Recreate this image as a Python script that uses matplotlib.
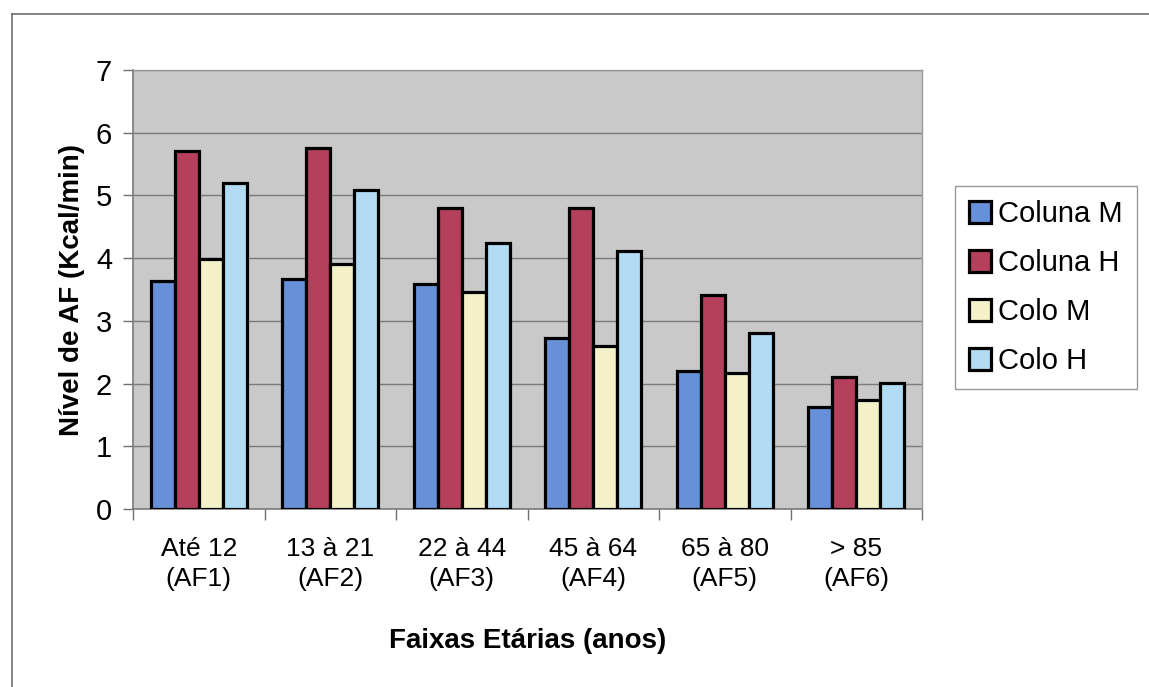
import matplotlib.pyplot as plt
import numpy as np
from matplotlib.lines import Line2D

plt.rcParams["font.family"] = ["Liberation Sans", "DejaVu Sans"]

categories = ["Até 12\n(AF1)", "13 à 21\n(AF2)", "22 à 44\n(AF3)",
              "45 à 64\n(AF4)", "65 à 80\n(AF5)", "> 85\n(AF6)"]
coluna_m = [3.64, 3.67, 3.59, 2.73, 2.20, 1.63]
coluna_h = [5.71, 5.76, 4.80, 4.80, 3.41, 2.11]
colo_m = [3.99, 3.91, 3.46, 2.60, 2.17, 1.74]
colo_h = [5.20, 5.09, 4.24, 4.11, 2.81, 2.01]

series = [
    ("Coluna M", coluna_m, "#6690d8"),
    ("Coluna H", coluna_h, "#b4405c"),
    ("Colo M", colo_m, "#f4f1c8"),
    ("Colo H", colo_h, "#b2dcf4"),
]

fig = plt.figure(figsize=(11.49, 6.87), dpi=100)
ax = fig.add_axes([133 / 1149, 1 - 509 / 687, 789 / 1149, 439 / 687])
ax.set_facecolor("#c9c9c9")

x = np.arange(len(categories))
w = 0.183
for i, (name, vals, col) in enumerate(series):
    ax.bar(x + (i - 1.5) * w, vals, w, color=col, edgecolor="black",
           linewidth=2.3, label=name, zorder=3)

ax.set_xlim(-0.5, len(categories) - 0.5)
ax.set_ylim(0, 7)
ax.set_yticks(range(8))
ax.yaxis.grid(True, color="#7a7a7a", linewidth=1.0, zorder=1)

# category ticks sit between groups, labels at group centres
ax.set_xticks(np.arange(-0.5, len(categories)), minor=False)
ax.set_xticklabels([])
ax.set_xticks(x, minor=True)
ax.set_xticklabels(categories, minor=True, fontsize=19, linespacing=1.35)
ax.tick_params(axis="x", which="minor", length=0, pad=20)
ax.tick_params(axis="x", which="major", length=8, color="#707070", width=1)
ax.tick_params(axis="y", length=7, color="#707070", width=1, labelsize=21, pad=8)

for s in ["top", "right"]:
    ax.spines[s].set_visible(False)
for s in ["left", "bottom"]:
    ax.spines[s].set_color("#7a7a7a")
    ax.spines[s].set_linewidth(1.2)
ax.plot([1, 1], [0, 1], transform=ax.transAxes, color="#9a9a9a", lw=1, zorder=4, clip_on=False)
ax.plot([0, 1], [1, 1], transform=ax.transAxes, color="#9a9a9a", lw=1, zorder=4, clip_on=False)

ax.set_xlabel("Faixas Etárias (anos)", fontsize=20, fontweight="bold", labelpad=26)
ax.set_ylabel("Nível de AF (Kcal/min)", fontsize=20, fontweight="bold", labelpad=8)

leg = ax.legend(loc="upper left", bbox_to_anchor=(955 / 1149, 1 - 186 / 687),
                bbox_transform=fig.transFigure, borderaxespad=0, fontsize=21,
                fancybox=False, frameon=True, handlelength=0.75, handleheight=0.75,
                handletextpad=0.25, labelspacing=0.72, borderpad=0.48)
leg.get_frame().set_edgecolor("#808080")
leg.get_frame().set_linewidth(1.0)

# outer chart frame (cut by image edges on right and bottom)
fig.add_artist(Line2D([12 / 1149, 1], [1 - 14 / 687, 1 - 14 / 687], color="#707070", lw=1.2))
fig.add_artist(Line2D([12 / 1149, 12 / 1149], [0, 1 - 14 / 687], color="#707070", lw=1.2))

fig.savefig("out.png", dpi=100)
